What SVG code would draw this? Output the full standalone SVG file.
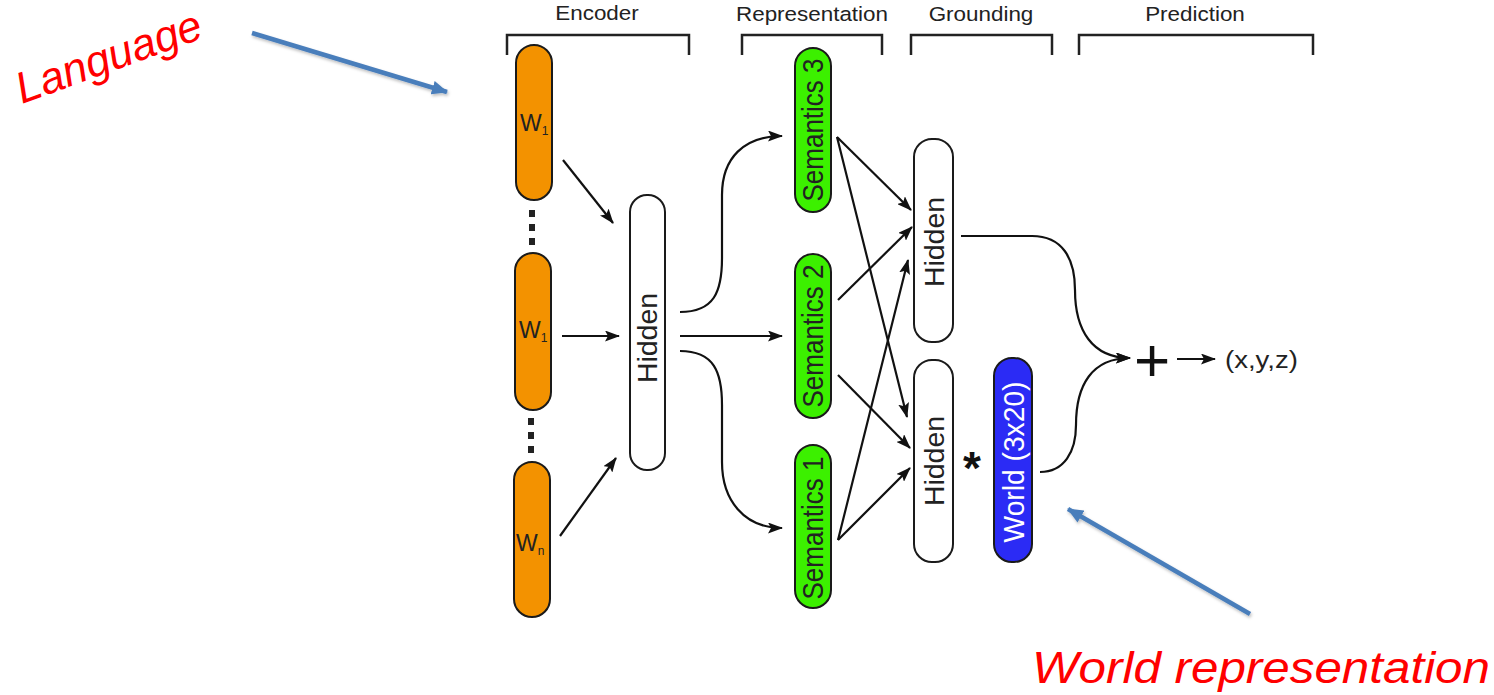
<svg xmlns="http://www.w3.org/2000/svg" width="1494" height="695" viewBox="0 0 1494 695">
  <style>
    .lbl { font-family: "Liberation Sans", Arial, sans-serif; fill: #222; }
    .bracket { fill: none; stroke: #222; stroke-width: 2.5; }
    .node { stroke: #1a1a1a; stroke-width: 2; }
    .enc { fill: #f39200; }
    .sem { fill: #3cf000; }
    .hid { fill: #ffffff; }
    .world { fill: #2b2bf5; }
    .edge { fill: none; stroke: #111; stroke-width: 2.2; marker-end: url(#head); }
    .note { font-family: "Liberation Sans", Arial, sans-serif; font-style: italic; fill: #ff0000; }
    .pointer { fill: none; stroke: #4a7ebb; stroke-width: 4.5; marker-end: url(#bluehead); filter: url(#shadow); }
  </style>
  <defs>
    <marker id="head" viewBox="0 0 15 11" refX="14" refY="5.5" markerWidth="15" markerHeight="11" markerUnits="userSpaceOnUse" orient="auto">
      <path d="M0,0 L15,5.5 L0,11 L3,5.5 z" fill="#111"/>
    </marker>
    <marker id="bluehead" viewBox="0 0 16 14" refX="15" refY="7" markerWidth="16" markerHeight="14" markerUnits="userSpaceOnUse" orient="auto">
      <path d="M0,0 L16,7 L0,14 z" fill="#4a7ebb"/>
    </marker>
    <filter id="shadow" x="-10%" y="-10%" width="120%" height="130%">
      <feDropShadow dx="1" dy="2" stdDeviation="1.5" flood-color="#000" flood-opacity="0.25"/>
    </filter>
  </defs>

  <!-- stage headings and brackets -->
  <g id="stages">
    <text class="lbl" font-size="19.5" text-anchor="middle" transform="translate(597,20) scale(1.15,1)">Encoder</text>
    <text class="lbl" font-size="19.5" text-anchor="middle" transform="translate(812,21) scale(1.15,1)">Representation</text>
    <text class="lbl" font-size="19.5" text-anchor="middle" transform="translate(981,21) scale(1.15,1)">Grounding</text>
    <text class="lbl" font-size="19.5" text-anchor="middle" transform="translate(1195,21) scale(1.15,1)">Prediction</text>
    <path class="bracket" d="M507,55 V35 H689 V55"/>
    <path class="bracket" d="M742,55 V35 H882 V55"/>
    <path class="bracket" d="M911,55 V35 H1052 V55"/>
    <path class="bracket" d="M1079,55 V35 H1313 V55"/>
  </g>

  <!-- encoder word inputs -->
  <g id="w1-top">
    <rect class="node enc" x="516" y="45" width="36" height="155" rx="18"/>
    <text class="lbl" font-size="23" x="520" y="131">W<tspan font-size="12" dy="4">1</tspan></text>
  </g>
  <g id="w1-mid">
    <rect class="node enc" x="515" y="253" width="36" height="157" rx="18"/>
    <text class="lbl" font-size="23" x="519" y="338">W<tspan font-size="12" dy="4">1</tspan></text>
  </g>
  <g id="wn">
    <rect class="node enc" x="514" y="462" width="36" height="155" rx="18"/>
    <text class="lbl" font-size="23" x="516" y="551">W<tspan font-size="12" dy="4">n</tspan></text>
  </g>
  <g id="ellipsis">
    <rect x="529" y="210" width="6" height="7" fill="#222"/>
    <rect x="529" y="224" width="6" height="7" fill="#222"/>
    <rect x="529" y="238" width="6" height="7" fill="#222"/>
    <rect x="528" y="418" width="6" height="7" fill="#222"/>
    <rect x="528" y="432" width="6" height="7" fill="#222"/>
    <rect x="528" y="446" width="6" height="7" fill="#222"/>
  </g>

  <!-- encoder hidden layer -->
  <g id="enc-hidden">
    <rect class="node hid" x="630" y="195" width="35" height="275" rx="17"/>
    <text class="lbl" font-size="27" text-anchor="middle" dy="0.36em" textLength="90" lengthAdjust="spacingAndGlyphs" transform="translate(647,338) rotate(-90)">Hidden</text>
  </g>

  <!-- semantic representations -->
  <g id="sem3">
    <rect class="node sem" x="795" y="48" width="36" height="164" rx="18"/>
    <text class="lbl" font-size="26" text-anchor="middle" dy="0.36em" textLength="143" lengthAdjust="spacingAndGlyphs" transform="translate(813,130) scale(1.1,1) rotate(-90)">Semantics 3</text>
  </g>
  <g id="sem2">
    <rect class="node sem" x="795" y="254" width="36" height="164" rx="18"/>
    <text class="lbl" font-size="26" text-anchor="middle" dy="0.36em" textLength="143" lengthAdjust="spacingAndGlyphs" transform="translate(813,336) scale(1.1,1) rotate(-90)">Semantics 2</text>
  </g>
  <g id="sem1">
    <rect class="node sem" x="795" y="445" width="36" height="163" rx="18"/>
    <text class="lbl" font-size="26" text-anchor="middle" dy="0.36em" textLength="143" lengthAdjust="spacingAndGlyphs" transform="translate(813,528) scale(1.1,1) rotate(-90)">Semantics 1</text>
  </g>

  <!-- grounding layers -->
  <g id="ground-hidden-top">
    <rect class="node hid" x="914" y="139" width="39" height="203" rx="18"/>
    <text class="lbl" font-size="27" text-anchor="middle" dy="0.36em" textLength="90" lengthAdjust="spacingAndGlyphs" transform="translate(934,242) rotate(-90)">Hidden</text>
  </g>
  <g id="ground-hidden-bottom">
    <rect class="node hid" x="914" y="360" width="39" height="202" rx="18"/>
    <text class="lbl" font-size="27" text-anchor="middle" dy="0.36em" textLength="90" lengthAdjust="spacingAndGlyphs" transform="translate(934,461) rotate(-90)">Hidden</text>
  </g>
  <g id="times">
    <text font-family="Liberation Sans, Arial, sans-serif" font-weight="bold" font-size="46" fill="#111" text-anchor="middle" x="972" y="484">*</text>
  </g>
  <g id="world">
    <rect class="node world" x="994" y="358" width="38" height="204" rx="18"/>
    <text font-family="Liberation Sans, Arial, sans-serif" font-size="27" fill="#ffffff" text-anchor="middle" dy="0.36em" textLength="161" lengthAdjust="spacingAndGlyphs" transform="translate(1013,462) scale(1.1,1) rotate(-90)">World (3x20)</text>
  </g>

  <!-- prediction -->
  <g id="sum">
    <text font-family="Liberation Sans, Arial, sans-serif" font-size="62" fill="#111" text-anchor="middle" x="1152" y="381">+</text>
  </g>
  <g id="output">
    <text class="lbl" font-size="23" x="1225" y="368" textLength="73" lengthAdjust="spacingAndGlyphs">(x,y,z)</text>
  </g>

  <!-- connectors -->
  <g id="connectors">
    <path class="edge" d="M563,160 L613,223"/>
    <path class="edge" d="M562,336 L619,336"/>
    <path class="edge" d="M560,536 L616,458"/>

    <path class="edge" d="M680,312 C714,312 722,292 722,258 L722,195 C722,158 744,136 782,136"/>
    <path class="edge" d="M680,336 L782,336"/>
    <path class="edge" d="M680,351 C714,351 722,372 722,405 L722,462 C722,500 744,528 782,528"/>

    <path class="edge" d="M837,137 L911,210"/>
    <path class="edge" d="M837,137 L907,417"/>
    <path class="edge" d="M838,300 L912,227"/>
    <path class="edge" d="M838,375 L910,448"/>
    <path class="edge" d="M838,540 L908,260"/>
    <path class="edge" d="M838,540 L910,468"/>

    <path class="edge" d="M961,236 L1032,236 C1062,236 1075,258 1075,290 C1075,330 1092,358 1130,358"/>
    <path class="edge" d="M1040,472 C1064,472 1076,452 1076,425 C1076,385 1092,358 1130,358"/>
    <path class="edge" d="M1177,359 L1215,359"/>
  </g>

  <!-- annotations -->
  <g id="annotations">
    <text class="note" font-size="44" textLength="195" lengthAdjust="spacingAndGlyphs" transform="translate(22,104) rotate(-20)">Language</text>
    <path class="pointer" d="M252,33 L447,92"/>
    <text class="note" font-size="45" x="1032" y="683" textLength="458" lengthAdjust="spacingAndGlyphs">World representation</text>
    <path class="pointer" d="M1250,614 L1068,509"/>
  </g>
</svg>
